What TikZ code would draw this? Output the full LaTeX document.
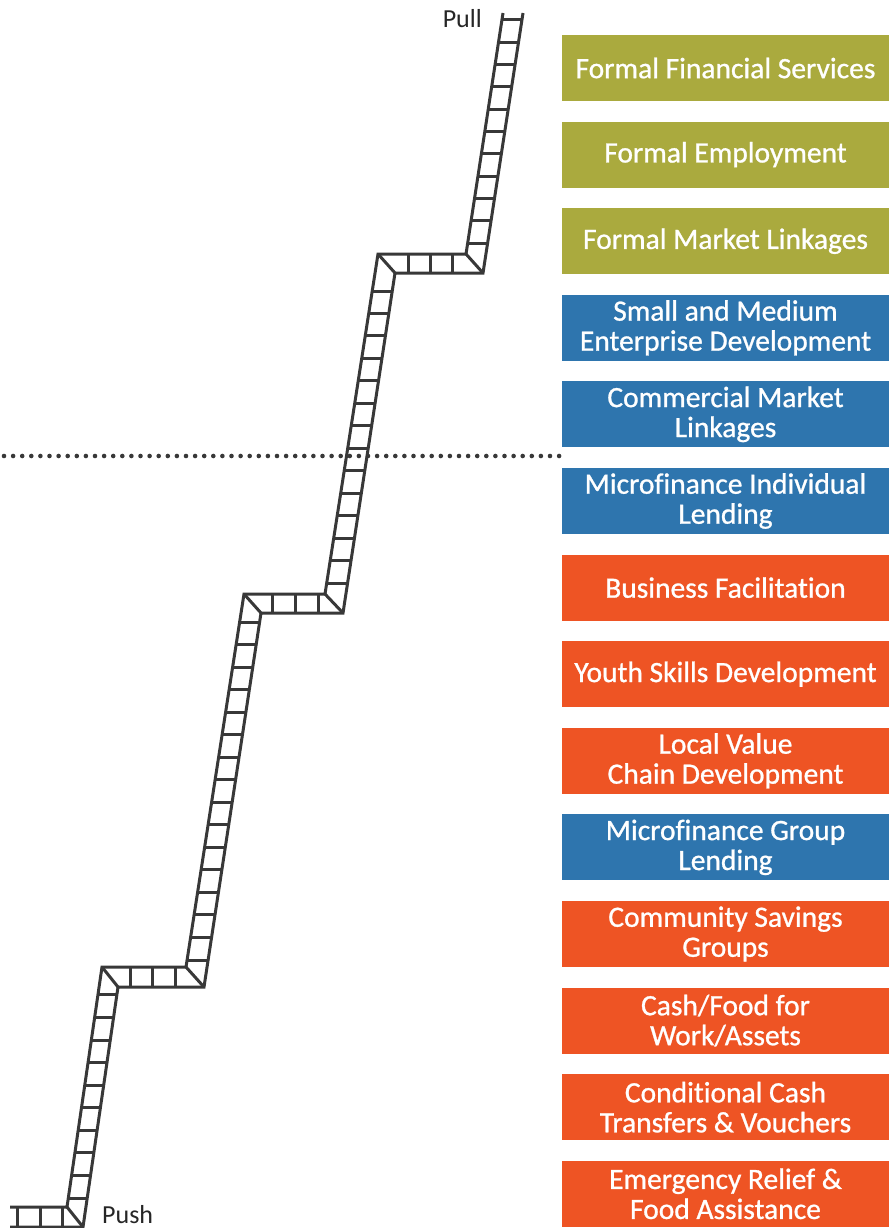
\documentclass[tikz,border=0pt]{standalone}
\usepackage{fontspec}
\setmainfont{Carlito}
\newfontfamily\boxfont[FakeBold=0.9,Ligatures=NoCommon]{Carlito}
\definecolor{ladgray}{HTML}{383838}
\definecolor{olivebox}{HTML}{AAAA3E}
\definecolor{bluebox}{HTML}{2E75AE}
\definecolor{orangebox}{HTML}{EE5424}
\tikzset{
  ladder/.style={draw=ladgray, line width=3pt, line join=miter, line cap=butt},
  dotline/.style={draw=ladgray, line width=4.6pt, line cap=round, dash pattern=on 0pt off 9.1pt},
  stepbox/.style={rectangle, minimum width=327pt, minimum height=66pt, inner sep=0pt,
    text=white, align=center, font=\boxfont\fontsize{29.5}{30}\selectfont},
  endlabel/.style={inner sep=0pt, text=black!85, font=\fontsize{26}{28}\selectfont}
}
\begin{document}
\begin{tikzpicture}[x=1pt,y=-1pt]
\useasboundingbox (0,0) rectangle (889,1228);

% ---------- boxes ----------
\foreach \i/\c/\t in {
  0/olivebox/{Formal Financial Services},
  1/olivebox/{Formal Employment},
  2/olivebox/{Formal Market Linkages},
  3/bluebox/{Small and Medium\\Enterprise Development},
  4/bluebox/{Commercial Market\\Linkages},
  5/bluebox/{Microfinance Individual\\Lending},
  6/orangebox/{Business Facilitation},
  7/orangebox/{Youth Skills Development},
  8/orangebox/{Local Value\\Chain Development},
  9/bluebox/{Microfinance Group\\Lending},
  10/orangebox/{Community Savings\\Groups},
  11/orangebox/{Cash/Food for\\Work/Assets},
  12/orangebox/{Conditional Cash\\Transfers \& Vouchers},
  13/orangebox/{Emergency Relief \&\\Food Assistance}}{
  \node[stepbox, fill=\c] (box\i) at (725.5, {68+\i*86.6}) {\t};
}

% ---------- dotted divider ----------
\coordinate (dl) at (4,456);
\coordinate (dr) at (560,456);
\draw[dotline] (dl) -- (dr);

% ---------- ladder outline ----------
\coordinate (a0) at (10,1207);  \coordinate (b0) at (10,1227);
\coordinate (a1) at (67,1207);  \coordinate (b1) at (83,1227);
\coordinate (a2) at (102,967);  \coordinate (b2) at (118,987);
\coordinate (a3) at (186,967);  \coordinate (b3) at (204,987);
\coordinate (a4) at (244,594);  \coordinate (b4) at (261,613);
\coordinate (a5) at (325,594);  \coordinate (b5) at (343,613);
\coordinate (a6) at (378,254);  \coordinate (b6) at (395,273);
\coordinate (a7) at (466,254);  \coordinate (b7) at (483,273);
\coordinate (a8) at (503,13);   \coordinate (b8) at (523,13);

\draw[ladder] (a0) -- (a1) -- (a2) -- (a3) -- (a4) -- (a5) -- (a6) -- (a7) -- (a8);
\draw[ladder] (b0) -- (b1) -- (b2) -- (b3) -- (b4) -- (b5) -- (b6) -- (b7) -- (b8);
\foreach \j in {1,...,7}{ \draw[ladder] (a\j) -- (b\j); }

% landing rungs
\foreach \x in {17,40,62}{ \draw[ladder] (\x,1207) -- (\x,1227); }
\foreach \x in {130,152,175}{ \draw[ladder] (\x,967) -- (\x,987); }
\foreach \x in {272,295,318}{ \draw[ladder] (\x,594) -- (\x,613); }
\foreach \x in {408,430,452}{ \draw[ladder] (\x,254) -- (\x,273); }

% slanted rungs, section 1
\foreach \k in {0,...,9}{
  \pgfmathsetmacro\yy{1198-\k*22.56}
  \pgfmathsetmacro\xl{67+(\yy-1207)/(967-1207)*(102-67)}
  \pgfmathsetmacro\xr{83+(\yy-1227)/(987-1227)*(118-83)}
  \draw[ladder] (\xl,\yy) -- (\xr,\yy);
}
% section 2
\foreach \k in {0,...,15}{
  \pgfmathsetmacro\yy{960-\k*22.53}
  \pgfmathsetmacro\xl{186+(\yy-967)/(594-967)*(244-186)}
  \pgfmathsetmacro\xr{204+(\yy-987)/(613-987)*(261-204)}
  \draw[ladder] (\xl,\yy) -- (\xr,\yy);
}
% section 3
\foreach \k in {0,...,13}{
  \pgfmathsetmacro\yy{583-\k*22.46}
  \pgfmathsetmacro\xl{325+(\yy-594)/(254-594)*(378-325)}
  \pgfmathsetmacro\xr{343+(\yy-613)/(273-613)*(395-343)}
  \draw[ladder] (\xl,\yy) -- (\xr,\yy);
}
% section 4
\foreach \k in {0,...,10}{
  \pgfmathsetmacro\yy{243-\k*22.3}
  \pgfmathsetmacro\xl{466+(\yy-254)/(13-254)*(503-466)}
  \pgfmathsetmacro\xr{483+(\yy-273)/(13-273)*(523-483)}
  \draw[ladder] (\xl,\yy) -- (\xr,\yy);
}

% ---------- end labels ----------
\node[endlabel, anchor=base east] (pull) at (482,28) {Pull};
\node[endlabel, anchor=base west] (push) at (102,1223) {Push};
\end{tikzpicture}
\end{document}
